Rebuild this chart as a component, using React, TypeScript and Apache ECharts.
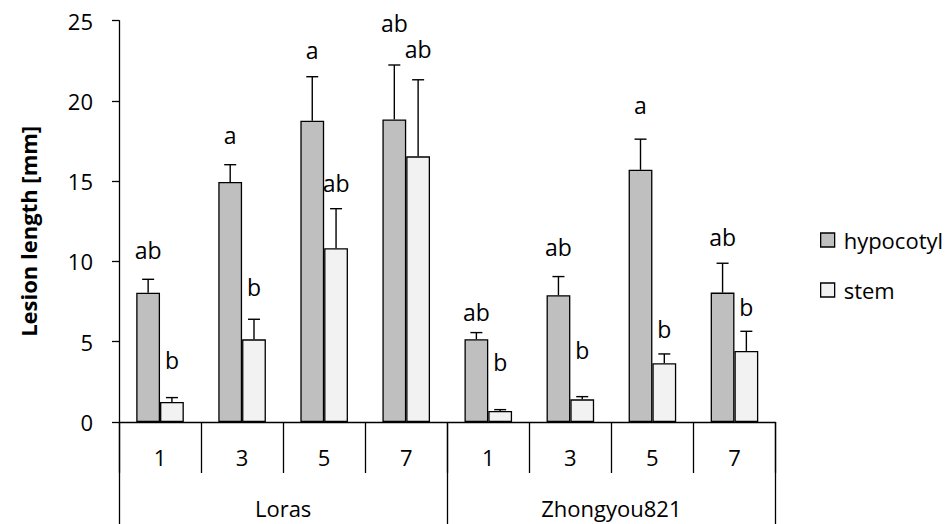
import React, { useEffect, useRef } from "react";
import * as echarts from "echarts";

const days = ["1", "3", "5", "7", "1", "3", "5", "7"];
const groups = ["Loras", "Zhongyou821"];
const groupOf = [0, 0, 0, 0, 1, 1, 1, 1];
const seriesNames = ["hypocotyl", "stem"];

const hypocotyl = [8.05, 14.95, 18.77, 18.85, 5.16, 7.9, 15.71, 8.06];
const hypocotylErr = [0.84, 1.08, 2.74, 3.39, 0.41, 1.16, 1.91, 1.83];
const stem = [1.25, 5.15, 10.82, 16.55, 0.69, 1.41, 3.66, 4.43];
const stemErr = [0.27, 1.25, 2.47, 4.77, 0.08, 0.17, 0.58, 1.22];

const hypocotylLetters = ["ab", "a", "a", "ab", "ab", "ab", "a", "ab"];
const stemLetters = ["b", "b", "ab", "ab", "b", "b", "b", "b"];
// height (in mm, axis units) at which each significance letter is centred
const hypocotylLetterAt = [10.72, 17.9, 23.19, 24.88, 6.84, 10.93, 19.76, 11.55];
const stemLetterAt = [3.87, 8.42, 14.92, 23.25, 3.76, 4.49, 5.78, 7.19];

const yTicks = [0, 5, 10, 15, 20, 25];

const FONT = '"Open Sans", "DejaVu Sans", sans-serif';
const FS = 22;
const BAR_FRAC = 0.29;

function errSeries(name: string, vals: number[], errs: number[], letters: string[], letterAt: number[], sign: number) {
  return {
    type: "custom",
    name,
    xAxisIndex: 0,
    yAxisIndex: 0,
    clip: false,
    z: 5,
    data: vals.map((v, i) => [i, v, errs[i]]),
    encode: { x: 0, y: 1 },
    renderItem: (params: any, api: any) => {
      const idx = api.value(0);
      const v = api.value(1);
      const e = api.value(2);
      const band = api.size([1, 0])[0];
      const bw = band * BAR_FRAC;
      const base = api.coord([idx, v]);
      const top = api.coord([idx, v + e]);
      const cx = base[0] + (sign * bw) / 2;
      const ly = api.coord([idx, letterAt[params.dataIndex]])[1];
      const ls = { stroke: "#000", lineWidth: 1.4 };
      return {
        type: "group",
        children: [
          { type: "line", shape: { x1: cx, y1: base[1], x2: cx, y2: top[1] }, style: ls },
          { type: "line", shape: { x1: cx - 6, y1: top[1], x2: cx + 6, y2: top[1] }, style: ls },
          {
            type: "text",
            style: {
              text: letters[params.dataIndex],
              x: cx,
              y: ly,
              textAlign: "center",
              textVerticalAlign: "middle",
              fontSize: 23,
              fontFamily: FONT,
              fill: "#000",
            },
          },
        ],
      };
    },
  };
}

export default function App() {
  const ref = useRef<HTMLDivElement>(null);
  useEffect(() => {
    if (!ref.current) return;
    const chart = echarts.init(ref.current, null, { renderer: "svg" });
    const keys = days.map((d, i) => `${groups[groupOf[i]]}-${d}-${i}`);
    const option: any = {
      animation: false,
      backgroundColor: "#fff",
      textStyle: { fontFamily: FONT },
      grid: { left: 119, right: 174.5, top: 20.7, bottom: 102, containLabel: false },
      legend: {
        data: seriesNames,
        orient: "vertical",
        left: 820,
        top: 229,
        padding: 0,
        itemWidth: 14,
        itemHeight: 14,
        itemGap: 28,
        icon: "rect",
        itemStyle: { borderColor: "#000", borderWidth: 1.3 },
        textStyle: { fontSize: FS, fontFamily: FONT, color: "#000", lineHeight: 22, padding: [0, 0, 0, 4] },
      },
      xAxis: [
        {
          type: "category",
          data: keys,
          position: "bottom",
          axisLine: { show: true, lineStyle: { color: "#000", width: 1.3 } },
          axisTick: { show: true, interval: 0, length: 51, lineStyle: { color: "#000", width: 1.3 } },
          axisLabel: {
            interval: 0,
            margin: 24,
            fontSize: FS,
            fontFamily: FONT,
            color: "#000",
            formatter: (_v: string, i: number) => days[i],
          },
          splitLine: { show: false },
        },
        {
          type: "category",
          data: groups,
          position: "bottom",
          axisLine: { show: false },
          axisTick: { show: true, interval: 0, length: 104, lineStyle: { color: "#000", width: 1.3 } },
          axisLabel: { interval: 0, margin: 75, fontSize: FS, fontFamily: FONT, color: "#000" },
          splitLine: { show: false },
        },
      ],
      yAxis: {
        type: "value",
        min: yTicks[0],
        max: yTicks[yTicks.length - 1],
        interval: 5,
        name: "Lesion length [mm]",
        nameLocation: "middle",
        nameGap: 80,
        nameTextStyle: { fontSize: FS, fontWeight: "bold", fontFamily: FONT, color: "#000", padding: [0, 20, 0, 0] },
        axisLine: { show: true, lineStyle: { color: "#000", width: 1.3 } },
        axisTick: { show: true, length: 7, lineStyle: { color: "#000", width: 1.3 } },
        axisLabel: { margin: 26, fontSize: FS, fontFamily: FONT, color: "#000" },
        splitLine: { show: false },
      },
      series: [
        {
          type: "bar",
          name: "hypocotyl",
          data: hypocotyl,
          barWidth: `${BAR_FRAC * 100}%`,
          barGap: "0%",
          itemStyle: { color: "#BFBFBF", borderColor: "#000", borderWidth: 1.3 },
        },
        {
          type: "bar",
          name: "stem",
          data: stem,
          barWidth: `${BAR_FRAC * 100}%`,
          barGap: "0%",
          itemStyle: { color: "#F2F2F2", borderColor: "#000", borderWidth: 1.3 },
        },
        errSeries("hypocotyl error", hypocotyl, hypocotylErr, hypocotylLetters, hypocotylLetterAt, -1),
        errSeries("stem error", stem, stemErr, stemLetters, stemLetterAt, 1),
      ],
    };
    chart.setOption(option);
    return () => chart.dispose();
  }, []);
  return (
    <div
      ref={ref}
      style={{ position: "absolute", left: 0, top: 0, width: 950, height: 524, background: "#fff" }}
    />
  );
}
